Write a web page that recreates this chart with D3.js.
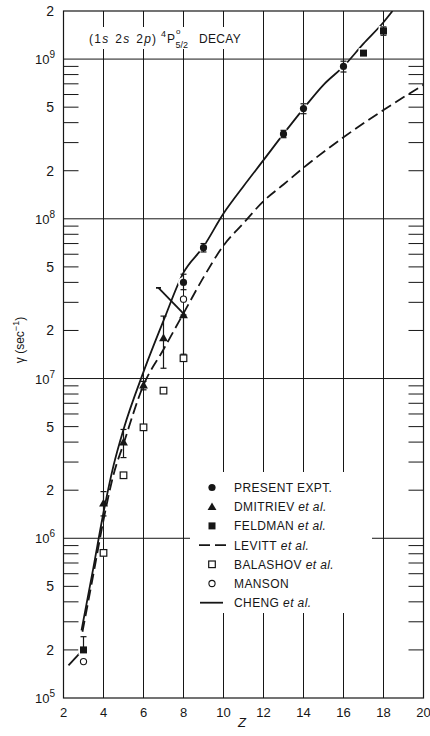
<!DOCTYPE html>
<html>
<head>
<meta charset="utf-8">
<script src="https://cdn.jsdelivr.net/npm/d3@7"></script>
<style>
    body { margin: 0; background: #fff; }
    svg { display: block; font-family: "Liberation Sans", Arial, sans-serif; }
</style>
</head>
<body>
<div id="chart"></div>
<script>
// ---- data ----
const presentZ = [8, 9, 13, 14, 16];
const presentVal = [4.0e7, 6.6e7, 3.4e8, 4.9e8, 9.0e8];
const presentLo = [3.6e7, 6.2e7, 3.22e8, 4.55e8, 8.3e8];
const presentHi = [4.5e7, 7.0e7, 3.58e8, 5.25e8, 9.7e8];

const dmitrievZ = [4, 5, 6, 7, 8];
const dmitrievVal = [1.66e6, 4.0e6, 9.1e6, 1.8e7, 2.5e7];
const dmitrievLo = [1.38e6, 3.2e6, 8.5e6, 1.16e7, 1.42e7];
const dmitrievHi = [1.96e6, 4.8e6, 9.6e6, 2.46e7, 2.5e7];

const feldmanZ = [3, 17, 18];
const feldmanVal = [2.0e5, 1.09e9, 1.5e9];
const feldmanLo = [2.0e5, 1.09e9, 1.41e9];
const feldmanHi = [2.42e5, 1.09e9, 1.59e9];

const balashovZ = [4, 5, 6, 7, 8];
const balashovVal = [8.1e5, 2.48e6, 4.95e6, 8.4e6, 1.34e7];

const mansonZ = [3, 8];
const mansonVal = [1.69e5, 3.14e7];

const levittZ = [2.95, 3.5, 4, 4.5, 5, 6, 7, 8, 9, 10, 11, 12, 13, 14, 16, 18, 20];
const levittVal = [2.6e5, 6.0e5, 1.3e6, 2.5e6, 3.9e6, 9.1e6, 1.52e7, 2.56e7, 4.3e7, 6.8e7,
                   9.4e7, 1.29e8, 1.64e8, 2.09e8, 3.24e8, 4.8e8, 6.9e8];

const chengZ = [2.9, 3.5, 4, 4.5, 5, 6, 7, 8, 9, 10, 11, 12, 13, 14, 15, 16, 17, 18, 18.45];
const chengVal = [2.65e5, 6.6e5, 1.45e6, 2.85e6, 4.8e6, 1.1e7, 2.3e7, 4.6e7, 6.7e7, 1.08e8,
                  1.6e8, 2.33e8, 3.4e8, 4.9e8, 6.9e8, 9.0e8, 1.25e9, 1.7e9, 2.0e9];
const chengLowZ = [2.25, 2.92];
const chengLowVal = [1.6e5, 1.97e5];
const chengCrossZ = [6.75, 8];
const chengCrossVal = [3.7e7, 2.55e7];

const xTicks = [2, 4, 6, 8, 10, 12, 14, 16, 18, 20];
const yDecades = [5, 6, 7, 8, 9];
const yMinorLabels = [2e5, 5e5, 2e6, 5e6, 2e7, 5e7, 2e8, 5e8, 2e9];

const legendLabels = ["PRESENT EXPT.", "DMITRIEV", "FELDMAN", "LEVITT", "BALASHOV", "MANSON", "CHENG"];
const legendEtAl = [false, true, true, true, true, false, true];

// ---- layout ----
const width = 430, height = 736;
const x0 = 63.5, x1 = 423.5, yTop = 11, yBot = 698;
const ink = "#161616";

const svg = d3.select("#chart").append("svg")
    .attr("width", width)
    .attr("height", height);

svg.append("rect").attr("width", width).attr("height", height).attr("fill", "#fff");

const x = d3.scaleLinear().domain([2, 20]).range([x0, x1]);
const y = d3.scaleLog().domain([1e5, 2e9]).range([yBot, yTop]);

svg.append("clipPath").attr("id", "plot")
    .append("rect").attr("x", x0).attr("y", yTop).attr("width", x1 - x0).attr("height", yBot - yTop);

// grid lines
const grid = svg.append("g").attr("stroke", ink).attr("stroke-width", 1);
xTicks.slice(1, -1).forEach(z => {
    grid.append("line").attr("x1", x(z)).attr("x2", x(z)).attr("y1", yTop).attr("y2", yBot);
});
yDecades.slice(1).forEach(d => {
    const v = Math.pow(10, d);
    grid.append("line").attr("x1", x0).attr("x2", x1).attr("y1", y(v)).attr("y2", y(v));
});

// minor ticks on both sides
const minor = [];
yDecades.forEach(d => {
    for (let m = 2; m <= 9; m++) {
        const v = m * Math.pow(10, d);
        if (v < 2e9) minor.push(v);
    }
});
minor.forEach(v => {
    grid.append("line").attr("x1", x0).attr("x2", x0 + 15).attr("y1", y(v)).attr("y2", y(v));
    grid.append("line").attr("x1", x1 - 15).attr("x2", x1).attr("y1", y(v)).attr("y2", y(v));
});

// legend box hides grid lines
svg.append("rect").attr("x", 190).attr("y", 472).attr("width", 182).attr("height", 141).attr("fill", "#fff");

// title with white background
svg.append("rect").attr("x", 86).attr("y", 27).attr("width", 162).attr("height", 22).attr("fill", "#fff");
const title = svg.append("g").attr("fill", ink);
const t1 = title.append("text").attr("x", 89).attr("y", 43).attr("font-size", 12)
    .attr("letter-spacing", 1.3).attr("word-spacing", 1);
t1.append("tspan").text("(1");
t1.append("tspan").attr("font-style", "italic").text("s");
t1.append("tspan").text(" 2");
t1.append("tspan").attr("font-style", "italic").text("s");
t1.append("tspan").text(" 2");
t1.append("tspan").attr("font-style", "italic").text("p");
t1.append("tspan").text(")");
title.append("text").attr("x", 161).attr("y", 37).attr("font-size", 9).text("4");
title.append("text").attr("x", 167).attr("y", 43).attr("font-size", 12).text("P");
title.append("text").attr("x", 176).attr("y", 34).attr("font-size", 8).text("o");
title.append("text").attr("x", 175.5).attr("y", 47.5).attr("font-size", 9).text("5/2");
title.append("text").attr("x", 199).attr("y", 43).attr("font-size", 12).attr("letter-spacing", 0.3).text("DECAY");

// frame
svg.append("rect").attr("x", x0).attr("y", yTop).attr("width", x1 - x0).attr("height", yBot - yTop)
    .attr("fill", "none").attr("stroke", ink).attr("stroke-width", 1.2);

// axis labels
const xl = svg.append("g").attr("fill", ink).attr("font-size", 13).attr("text-anchor", "middle");
xTicks.forEach(z => {
    xl.append("text").attr("x", x(z)).attr("y", 717).text(z);
});
svg.append("text").attr("x", 242).attr("y", 727).attr("font-size", 13).attr("font-style", "italic")
    .attr("text-anchor", "middle").attr("fill", ink).text("Z");

const yl = svg.append("g").attr("fill", ink).attr("text-anchor", "end");
yDecades.forEach(d => {
    const t = yl.append("text").attr("x", 55).attr("y", y(Math.pow(10, d)) + 5).attr("font-size", 13);
    t.append("tspan").text("10");
    t.append("tspan").attr("dy", -6).attr("font-size", 10).text(d);
});
yMinorLabels.forEach(v => {
    yl.append("text").attr("x", 54).attr("y", y(v) + 5).attr("font-size", 14)
        .text(String(Math.round(v / Math.pow(10, Math.floor(Math.log10(v))))));
});

const ytitle = svg.append("text")
    .attr("transform", "translate(24,340) rotate(-90)")
    .attr("text-anchor", "middle").attr("font-size", 12).attr("fill", ink);
ytitle.append("tspan").text("γ (sec");
ytitle.append("tspan").attr("dy", -5).attr("font-size", 9).text("−1");
ytitle.append("tspan").attr("dy", 5).text(")");

// ---- curves ----
const line = d3.line().x(d => x(d[0])).y(d => y(d[1])).curve(d3.curveMonotoneX);
const curves = svg.append("g").attr("clip-path", "url(#plot)")
    .attr("fill", "none").attr("stroke", ink).attr("stroke-width", 1.8);

curves.append("path").attr("d", line(d3.zip(levittZ, levittVal))).attr("stroke-dasharray", "11,5");
curves.append("path").attr("d", line(d3.zip(chengZ, chengVal)));
curves.append("path").attr("d", line(d3.zip(chengLowZ, chengLowVal)));
curves.append("path").attr("d", d3.line().x(d => x(d[0])).y(d => y(d[1]))(d3.zip(chengCrossZ, chengCrossVal)));
curves.append("line")
    .attr("x1", x(chengCrossZ[0]) - 2.5).attr("x2", x(chengCrossZ[0]) + 2.5)
    .attr("y1", y(chengCrossVal[0])).attr("y2", y(chengCrossVal[0]));

// ---- points ----
const pts = svg.append("g");

// white halos that break the curves around the measured points
presentZ.forEach((z, i) => {
    pts.append("circle").attr("cx", x(z)).attr("cy", y(presentVal[i])).attr("r", 5.5).attr("fill", "#fff");
});
feldmanZ.forEach((z, i) => {
    pts.append("rect").attr("x", x(z) - 5).attr("y", y(feldmanVal[i]) - 5).attr("width", 10).attr("height", 10).attr("fill", "#fff");
});

function errorBar(z, lo, hi) {
    const g = pts.append("g").attr("stroke", ink).attr("stroke-width", 1.2);
    g.append("line").attr("x1", x(z)).attr("x2", x(z)).attr("y1", y(lo)).attr("y2", y(hi));
    [lo, hi].forEach(v => {
        g.append("line").attr("x1", x(z) - 3).attr("x2", x(z) + 3).attr("y1", y(v)).attr("y2", y(v));
    });
}
presentZ.forEach((z, i) => errorBar(z, presentLo[i], presentHi[i]));
dmitrievZ.forEach((z, i) => errorBar(z, dmitrievLo[i], dmitrievHi[i]));
feldmanZ.forEach((z, i) => { if (feldmanHi[i] > feldmanLo[i]) errorBar(z, feldmanLo[i], feldmanHi[i]); });

const sym = d3.symbol();
function drawMarker(g, kind, cx, cy) {
    if (kind === "present") {
        g.append("circle").attr("cx", cx).attr("cy", cy).attr("r", 3.6).attr("fill", ink);
    } else if (kind === "dmitriev") {
        g.append("path").attr("transform", `translate(${cx},${cy + 0.8})`)
            .attr("d", sym.type(d3.symbolTriangle).size(34)()).attr("fill", ink);
    } else if (kind === "feldman") {
        g.append("rect").attr("x", cx - 3.5).attr("y", cy - 3.5).attr("width", 7).attr("height", 7).attr("fill", ink);
    } else if (kind === "balashov") {
        g.append("rect").attr("x", cx - 3.3).attr("y", cy - 3.3).attr("width", 6.6).attr("height", 6.6)
            .attr("fill", "#fff").attr("stroke", ink).attr("stroke-width", 1.2);
    } else if (kind === "manson") {
        g.append("circle").attr("cx", cx).attr("cy", cy).attr("r", 3.1)
            .attr("fill", "#fff").attr("stroke", ink).attr("stroke-width", 1.1);
    }
}

balashovZ.forEach((z, i) => drawMarker(pts, "balashov", x(z), y(balashovVal[i])));
mansonZ.forEach((z, i) => drawMarker(pts, "manson", x(z), y(mansonVal[i])));
dmitrievZ.forEach((z, i) => drawMarker(pts, "dmitriev", x(z), y(dmitrievVal[i])));
feldmanZ.forEach((z, i) => drawMarker(pts, "feldman", x(z), y(feldmanVal[i])));
presentZ.forEach((z, i) => drawMarker(pts, "present", x(z), y(presentVal[i])));

// ---- legend ----
const legendKinds = ["present", "dmitriev", "feldman", "levitt", "balashov", "manson", "cheng"];
const legend = svg.append("g");
legendLabels.forEach((name, i) => {
    const ry = 487.5 + i * 19.2;
    const k = legendKinds[i];
    if (k === "levitt") {
        legend.append("line").attr("x1", 199).attr("x2", 226).attr("y1", ry).attr("y2", ry)
            .attr("stroke", ink).attr("stroke-width", 1.8).attr("stroke-dasharray", "11,5");
    } else if (k === "cheng") {
        legend.append("line").attr("x1", 200).attr("x2", 223).attr("y1", ry).attr("y2", ry)
            .attr("stroke", ink).attr("stroke-width", 1.8);
    } else {
        drawMarker(legend, k, 212, ry);
    }
    const t = legend.append("text").attr("x", 234).attr("y", ry + 4.5)
        .attr("font-size", 12).attr("fill", ink).attr("letter-spacing", 0.4);
    t.append("tspan").text(name);
    if (legendEtAl[i]) t.append("tspan").attr("font-style", "italic").text(" et al.");
});
</script>
</body>
</html>
